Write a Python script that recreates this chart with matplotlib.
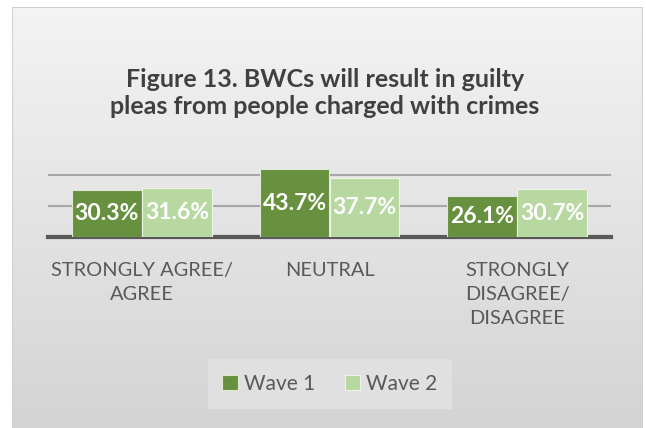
import matplotlib.pyplot as plt
import numpy as np
from matplotlib.patches import Rectangle

categories = ["STRONGLY AGREE/\nAGREE", "NEUTRAL", "STRONGLY\nDISAGREE/\nDISAGREE"]
wave1 = [30.3, 43.7, 26.1]
wave2 = [31.6, 37.7, 30.7]
series_names = ["Wave 1", "Wave 2"]

DARK = "#67913f"
LIGHT = "#b7d8a0"
TEXT = "#595959"

plt.rcParams['font.family'] = ['Lato', 'DejaVu Sans']

W, H = 646, 428
fig = plt.figure(figsize=(W / 100, H / 100), dpi=100)
fig.patch.set_facecolor("white")

# card background with soft vertical gradient
cx0, cx1, cy0 = 12, 643, 7
bg = fig.add_axes([cx0 / W, -2 / H, (cx1 - cx0) / W, 1 - (cy0 - 2) / H], zorder=0)
grad = np.linspace(0, 1, 256).reshape(-1, 1)
top = np.array([0.955, 0.955, 0.955])
bot = np.array([0.83, 0.83, 0.83])
img = top + (bot - top) * grad[:, :, None]
bg.imshow(img, aspect="auto", extent=[0, 1, 0, 1], origin="upper")
bg.add_patch(Rectangle((0, 0), 1, 1, fill=False, ec="#d0d0d0", lw=1.5,
                       transform=bg.transAxes))
bg.set_axis_off()

# plot area
left, right = 48 / W, 611 / W
bottom = 1 - 237 / H
top_y = 1 - (237 - 50 * 1.553) / H
ax = fig.add_axes([left, bottom, right - left, top_y - bottom], zorder=1)
ax.patch.set_alpha(0)

x = np.arange(len(categories))
bw = 0.373
b1 = ax.bar(x - bw / 2, wave1, bw, color=DARK, edgecolor="#dfe9d6", lw=0.8,
            label=series_names[0], zorder=3)
b2 = ax.bar(x + bw / 2, wave2, bw, color=LIGHT, edgecolor="#eef5e8", lw=0.8,
            label=series_names[1], zorder=3)

for bars, vals in ((b1, wave1), (b2, wave2)):
    ax.bar_label(bars, labels=[f"{v:.1f}%" for v in vals], label_type="center",
                 color="white", fontsize=16.5, fontweight="bold")

ax.set_xlim(-0.5, 2.5)
ax.set_ylim(0, 50)
ax.set_yticks([20, 40])
ax.yaxis.grid(True, color="#a6a6a6", lw=1.5, zorder=0)
ax.tick_params(axis="y", length=0, labelleft=False)
ax.set_xticks(x)
ax.set_xticklabels(categories, color=TEXT, fontsize=14.4, linespacing=1.5)
ax.tick_params(axis="x", length=0, pad=18)
for side in ("top", "left", "right"):
    ax.spines[side].set_visible(False)
ax.spines["bottom"].set_color("#595959")
ax.spines["bottom"].set_linewidth(3)

fig.text(325 / W, 1 - 93 / H,
         "Figure 13. BWCs will result in guilty\npleas from people charged with crimes",
         ha="center", va="center", fontsize=18, fontweight="bold", color="#404040",
         linespacing=1.25)

leg = fig.legend(handles=[b1, b2], loc="center", bbox_to_anchor=(330 / W, 1 - 384 / H),
                 ncol=2, frameon=True, fontsize=15, handlelength=0.75, handleheight=0.75,
                 handletextpad=0.3, columnspacing=1.4, borderpad=0.7, fancybox=False)
leg.get_frame().set_facecolor("#e3e3e3")
leg.get_frame().set_edgecolor("none")
for t in leg.get_texts():
    t.set_color(TEXT)

fig.savefig("out.png", dpi=100)
